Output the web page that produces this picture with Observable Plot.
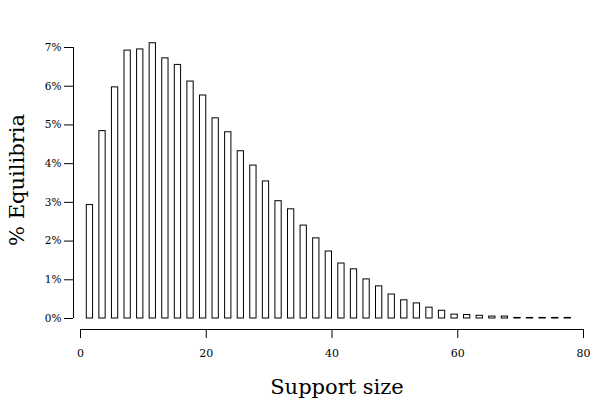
<!DOCTYPE html>
<html>
<head>
<meta charset="utf-8">
<script src="https://cdn.jsdelivr.net/npm/d3@7"></script>
<script src="https://cdn.jsdelivr.net/npm/@observablehq/plot@0.6"></script>
<style>
  html, body { margin: 0; padding: 0; background: #fff; }
</style>
</head>
<body>
<div id="chart"></div>
<script>
const supportSizes = [1,3,5,7,9,11,13,15,17,19,21,23,25,27,29,31,33,35,37,39,41,43,45,47,49,51,53,55,57,59,61,63,65,67,69,71,73,75,77];
const sharePct = [2.93,4.84,5.97,6.92,6.95,7.11,6.72,6.55,6.12,5.76,5.17,4.81,4.32,3.95,3.54,3.03,2.82,2.40,2.07,1.73,1.42,1.27,1.01,0.83,0.62,0.47,0.39,0.28,0.20,0.10,0.09,0.07,0.05,0.05,0.015,0.015,0.015,0.015,0.015];
const xTicks = [0, 20, 40, 60, 80];
const yTicks = [0, 1, 2, 3, 4, 5, 6, 7];
const xTitle = "Support size";
const yTitle = "% Equilibria";

const data = supportSizes.map((s, i) => ({s, v: sharePct[i]}));

const chart = Plot.plot({
  width: 609,
  height: 406,
  marginLeft: 80,
  marginRight: 26,
  marginTop: 47,
  marginBottom: 88,
  style: {fontFamily: "DejaVu Serif", fontSize: "11px", color: "#000", background: "#fff"},
  x: {domain: [0, 80]},
  y: {domain: [0, 7]},
  marks: [
    Plot.rectY(data, {x1: "s", x2: d => d.s + 1, y: "v", fill: "white", stroke: "black", strokeWidth: 1}),
    Plot.axisY({ticks: yTicks, tickFormat: d => d + "%", tickSize: 9, tickPadding: 3, dx: -7, stroke: "black", fill: "black", strokeWidth: 1, label: null, fontSize: 10.5}),
    Plot.ruleX([0], {y1: 0, y2: 7, dx: -7, stroke: "black", strokeWidth: 1}),
    Plot.axisX({ticks: xTicks, tickSize: 9, tickPadding: 11, dy: 11, stroke: "black", fill: "black", strokeWidth: 1, label: null, fontSize: 11}),
    Plot.ruleY([0], {x1: 0, x2: 80, dy: 11, stroke: "black", strokeWidth: 1}),
    Plot.text([xTitle], {frameAnchor: "bottom", dx: 5, dy: 75, lineAnchor: "bottom", fontSize: 21, fill: "black"}),
    Plot.text([yTitle], {frameAnchor: "left", textAnchor: "middle", rotate: -90, dx: -63, dy: -3, fontSize: 21, fill: "black"})
  ]
});
document.getElementById("chart").appendChild(chart);
</script>
</body>
</html>
